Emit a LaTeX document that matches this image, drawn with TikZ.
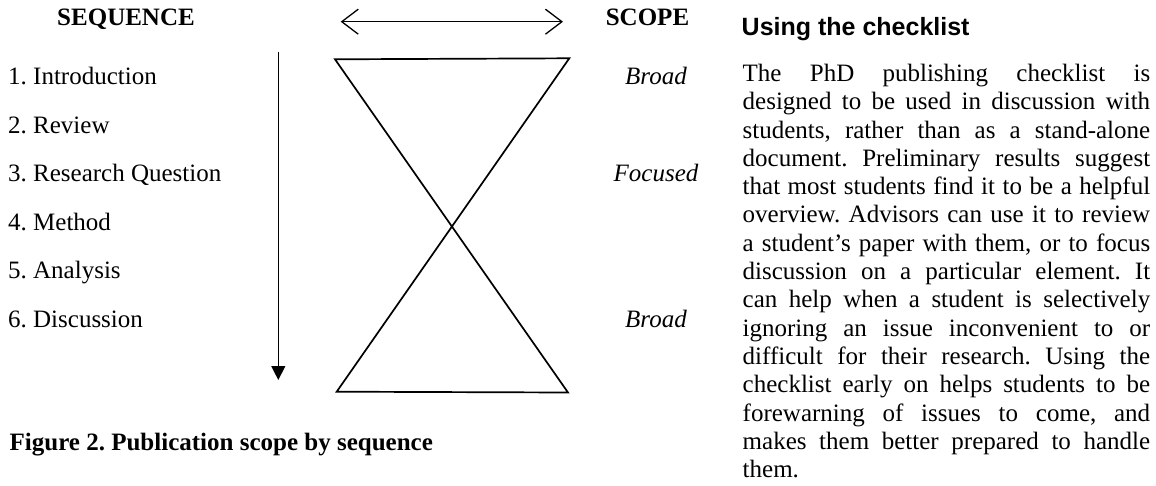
\documentclass[tikz,border=0pt]{standalone}
\usepackage{fontspec}
\setmainfont{Liberation Serif}
\newfontfamily\headfont{Liberation Sans}
\usetikzlibrary{arrows.meta}
\frenchspacing
\tikzset{
  fsz/.style={font=\fontsize{25}{28.4}\selectfont},
  txt/.style={fsz, inner sep=0pt, anchor=base west},
  ctxt/.style={fsz, inner sep=0pt, anchor=base},
  bodyline/.style={txt},
  shape line/.style={line width=1.7pt, line join=miter},
  dbl arrow/.style={line width=1.3pt, {Straight Barb[length=16.5pt,width=25pt,line width=1.3pt]}-{Straight Barb[length=16.5pt,width=25pt,line width=1.3pt]}},
  seq arrow/.style={line width=1.3pt, -{Triangle[length=14pt,width=14pt]}},
}
\newcommand{\bl}[1]{\makebox[407.5pt][s]{#1}}
\begin{document}
\begin{tikzpicture}[x=1pt,y=-1pt]
\useasboundingbox (0,0) rectangle (1156,486);
% headers
\node[ctxt, font=\fontsize{25}{28.4}\selectfont\bfseries] (seq) at (126,26) {SEQUENCE};
\node[ctxt, font=\fontsize{25}{28.4}\selectfont\bfseries] (scope) at (647.5,26) {SCOPE};
% double arrow
\coordinate (da1) at (340.7,21.7);
\coordinate (da2) at (563,21.7);
\draw[dbl arrow] (da1) -- (da2);
% sequence items
\node[txt] (i1) at (8,85) {1. Introduction};
\node[txt] (i2) at (8,133.5) {2. Review};
\node[txt] (i3) at (8,182) {3. Research Question};
\node[txt] (i4) at (8,230.5) {4. Method};
\node[txt] (i5) at (8,279) {5. Analysis};
\node[txt] (i6) at (8,327.5) {6. Discussion};
% sequence arrow
\coordinate (va1) at (278.3,52);
\coordinate (va2) at (278.3,380);
\draw[seq arrow] (va1) -- (va2);
% hourglass
\coordinate (tl) at (335,59.3);
\coordinate (tr) at (569.3,58.3);
\coordinate (blc) at (336.7,391.7);
\coordinate (brc) at (568,392.5);
\draw[shape line] (tl) -- (tr) -- (blc) -- (brc) -- cycle;
% scope labels
\node[ctxt, font=\fontsize{25}{28.4}\selectfont\itshape] (s1) at (656,85) {Broad};
\node[ctxt, font=\fontsize{25}{28.4}\selectfont\itshape] (s2) at (656,182) {Focused};
\node[ctxt, font=\fontsize{25}{28.4}\selectfont\itshape] (s3) at (656,327.5) {Broad};
% caption
\node[txt, font=\fontsize{25}{28.4}\selectfont\bfseries] (cap) at (9.5,450) {Figure 2. Publication scope by sequence};
% right column
\node[txt, font=\fontsize{25}{28.4}\selectfont\headfont\bfseries] (head) at (741.5,36) {Using the checklist};
\node[bodyline] (b1) at (742.5,81.5) {\bl{The PhD publishing checklist is}};
\node[bodyline] (b2) at (742.5,109.8) {\bl{designed to be used in discussion with}};
\node[bodyline] (b3) at (742.5,138.1) {\bl{students, rather than as a stand-alone}};
\node[bodyline] (b4) at (742.5,166.4) {\bl{document. Preliminary results suggest}};
\node[bodyline] (b5) at (742.5,194.7) {\bl{that most students find it to be a helpful}};
\node[bodyline] (b6) at (742.5,223.0) {\bl{overview. Advisors can use it to review}};
\node[bodyline] (b7) at (742.5,251.3) {\bl{a student’s paper with them, or to focus}};
\node[bodyline] (b8) at (742.5,279.6) {\bl{discussion on a particular element. It}};
\node[bodyline] (b9) at (742.5,307.9) {\bl{can help when a student is selectively}};
\node[bodyline] (b10) at (742.5,336.2) {\bl{ignoring an issue inconvenient to or}};
\node[bodyline] (b11) at (742.5,364.5) {\bl{difficult for their research. Using the}};
\node[bodyline] (b12) at (742.5,392.8) {\bl{checklist early on helps students to be}};
\node[bodyline] (b13) at (742.5,421.1) {\bl{forewarning of issues to come, and}};
\node[bodyline] (b14) at (742.5,449.4) {\bl{makes them better prepared to handle}};
\node[bodyline] (b15) at (742.5,477.7) {them.};
\end{tikzpicture}
\end{document}
